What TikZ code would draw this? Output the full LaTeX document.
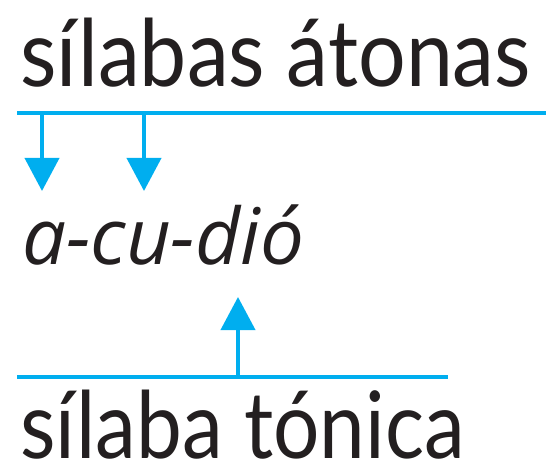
\documentclass[tikz,border=0pt]{standalone}
\usepackage{fontspec}
\setmainfont{Lato}
\newfontfamily\titlefont{Lato}[FakeStretch=0.88]
\newfontfamily\toptitlefont{Lato}[FakeStretch=0.905]
\newfontfamily\syllfont{Open Sans}
\usetikzlibrary{arrows.meta}
\definecolor{accblue}{HTML}{00AEEF}
\definecolor{inkgray}{HTML}{231F20}
\begin{document}
\begin{tikzpicture}[x=1pt,y=-1pt]
	\tikzstyle{title}=[anchor=base west,inner sep=0pt,font=\titlefont\fontsize{93}{93}\selectfont,text=inkgray]
	\tikzstyle{toptitle}=[title,font=\toptitlefont\fontsize{93}{93}\selectfont]
	\tikzstyle{word}=[anchor=base west,inner sep=0pt,font=\syllfont\itshape\fontsize{78}{78}\selectfont,text=inkgray]
	\tikzstyle{rule}=[draw=accblue,line width=4pt]
	\tikzstyle{pointer}=[rule,-{Triangle[width=34pt,length=33pt]}]
	\useasboundingbox (0,0) rectangle (555,476);
	\node[toptitle] (atonas) at (20,87) {sílabas átonas};
	\node[word] (acudio) at (22,265) {a-cu-dió};
	\node[title] (tonica) at (20,458) {sílaba tónica};
	% upper rule and its two arrows
	\coordinate (topL) at (17,113);
	\coordinate (topR) at (546,113);
	\draw[rule] (topL) -- (topR);
	\coordinate (fromA) at (42,113);
	\coordinate (toA) at (42,191);
	\coordinate (fromCu) at (144,113);
	\coordinate (toCu) at (144,191);
	\draw[pointer] (fromA) -- (toA);
	\draw[pointer] (fromCu) -- (toCu);
	% lower rule
	\coordinate (botL) at (17,377);
	\coordinate (botR) at (448,377);
	\draw[rule] (botL) -- (botR);
	\coordinate (fromDio) at (238,377);
	\coordinate (toDio) at (238,297);
	\draw[pointer] (fromDio) -- (toDio);
\end{tikzpicture}
\end{document}
